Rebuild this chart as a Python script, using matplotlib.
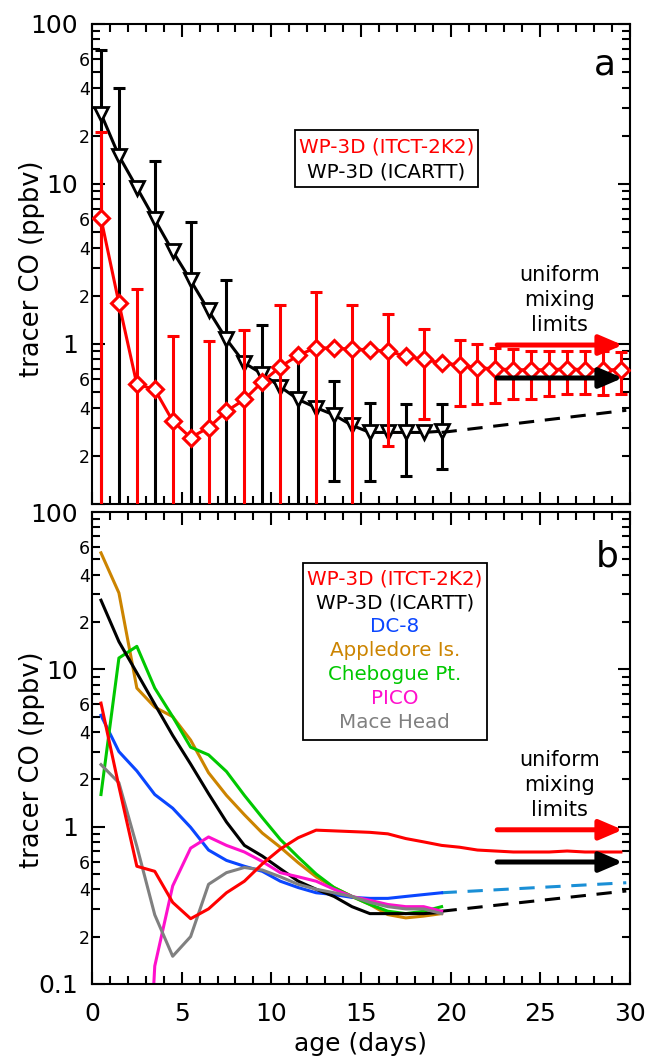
import numpy as np
import matplotlib.pyplot as plt
from matplotlib.patches import Rectangle

# ---- data ----
age = np.arange(0.5, 30, 1.0)          # 0.5 ... 29.5 days
age20 = age[:20]                       # 0.5 ... 19.5 days

co_itct = [6.1, 1.8, 0.56, 0.52, 0.33, 0.26, 0.30, 0.38, 0.45, 0.58,
           0.72, 0.85, 0.95, 0.94, 0.93, 0.92, 0.90, 0.84, 0.80, 0.76,
           0.74, 0.71, 0.70, 0.69, 0.69, 0.69, 0.70, 0.69, 0.69, 0.69]
err_itct_age = [0.5, 2.5, 4.5, 6.5, 8.5, 10.5, 12.5, 14.5, 16.5, 18.5,
                20.5, 21.5, 22.5, 23.5, 24.5, 25.5, 26.5, 27.5, 28.5, 29.5]
err_itct_hi = [21, 2.2, 1.12, 1.04, 1.23, 1.76, 2.1, 1.75, 1.54, 1.24,
               1.06, 1.0, 0.94, 0.93, 0.91, 0.90, 0.90, 0.90, 0.90, 0.89]
err_itct_lo = [0, 0, 0, 0, 0, 0, 0, 0, 0.23, 0.34,
               0.41, 0.42, 0.43, 0.45, 0.45, 0.47, 0.49, 0.49, 0.48, 0.49]

co_icartt = [27.5, 15, 9.5, 6.0, 3.8, 2.5, 1.62, 1.07, 0.76, 0.65,
             0.54, 0.45, 0.40, 0.36, 0.31, 0.28, 0.28, 0.28, 0.28, 0.285]
err_icartt_age = [0.5, 1.5, 3.5, 5.5, 7.5, 9.5, 11.5, 13.5, 15.5, 17.5, 19.5]
err_icartt_hi = [69, 40, 14, 5.8, 2.5, 1.32, 0.85, 0.59, 0.43, 0.42, 0.42]
err_icartt_lo = [0, 0, 0, 0, 0, 0, 0, 0.14, 0.14, 0.15, 0.166]

co_dc8 = [5.1, 3.0, 2.26, 1.6, 1.31, 0.99, 0.71, 0.61, 0.56, 0.52,
          0.45, 0.41, 0.38, 0.37, 0.355, 0.35, 0.35, 0.36, 0.37, 0.38]
co_appledore = [55, 30.6, 7.6, 5.75, 5.0, 3.55, 2.2, 1.58, 1.19, 0.91,
                0.74, 0.59, 0.48, 0.41, 0.36, 0.32, 0.276, 0.263, 0.27, 0.28]
co_chebogue = [1.6, 11.8, 14, 7.6, 5.0, 3.2, 2.86, 2.24, 1.58, 1.14,
               0.83, 0.64, 0.50, 0.41, 0.36, 0.32, 0.29, 0.28, 0.29, 0.31]
age_pico = age[2:20]
co_pico = [0.001, 0.13, 0.42, 0.73, 0.86, 0.76, 0.69, 0.60, 0.51, 0.48,
           0.45, 0.40, 0.36, 0.34, 0.32, 0.31, 0.31, 0.29]
co_mace = [2.48, 1.9, 0.75, 0.275, 0.15, 0.2, 0.43, 0.51, 0.55, 0.53,
           0.48, 0.43, 0.40, 0.38, 0.36, 0.33, 0.31, 0.30, 0.30, 0.28]

# extrapolations beyond 20 days
ext_age = [19.5, 29.8]
ext_icartt_top = [0.28, 0.385]
ext_icartt_bot = [0.29, 0.39]
ext_dc8 = [0.38, 0.44]

# uniform mixing limits (panel a, panel b)
limit_age = [22.6, 29.6]
limit_itct = [0.985, 0.955]
limit_icartt = [0.613, 0.596]

legend_top = ['WP-3D (ITCT-2K2)', 'WP-3D (ICARTT)']
legend_bot = ['WP-3D (ITCT-2K2)', 'WP-3D (ICARTT)', 'DC-8', 'Appledore Is.',
              'Chebogue Pt.', 'PICO', 'Mace Head']

RED, BLACK, BLUE = '#ff0000', '#000000', '#0a46ff'
ORANGE, GREEN, MAGENTA, GRAY = '#cc8400', '#00c800', '#ff10cc', '#808080'
LIGHTBLUE = '#1a8fd6'
colors_bot = [RED, BLACK, BLUE, ORANGE, GREEN, MAGENTA, GRAY]

plt.rcParams['font.family'] = ['DejaVu Sans']


def style_axes(ax, ylabel_y, bottom_label):
    ax.set_yscale('log', nonpositive='clip')
    ax.set_xlim(0, 30)
    ax.set_ylim(0.1, 100)
    ax.set_xticks(np.arange(0, 31, 5))
    ax.set_xticks([i for i in range(31) if i % 5], minor=True)
    minors = [k * 10.0 ** d for d in (-1, 0, 1) for k in range(2, 10)]
    minor_labels = [str(k) if k in (2, 4, 6) else '' for d in (-1, 0, 1) for k in range(2, 10)]
    ax.set_yticks([0.1, 1, 10, 100], labels=[bottom_label, '1', '10', '100'], fontsize=18)
    ax.set_yticks(minors, labels=minor_labels, minor=True, fontsize=12.5)
    ax.tick_params(which='both', direction='in', top=True, right=True, width=1.5)
    ax.tick_params(which='major', length=9)
    ax.tick_params(which='minor', length=5.5)
    ax.tick_params(axis='y', which='major', pad=10)
    ax.tick_params(axis='y', which='minor', pad=1.5)
    ax.tick_params(axis='x', which='major', labelsize=18, pad=13)
    for s in ax.spines.values():
        s.set_linewidth(1.5)
    ax.set_ylabel('tracer CO (ppbv)', fontsize=18.5)
    ax.yaxis.set_label_coords(-0.087, ylabel_y)


def draw_limits(ax, k, text_y):
    for yv, c in ((limit_itct, RED), (limit_icartt, BLACK)):
        ax.annotate('', xy=(limit_age[1], yv[k]), xytext=(limit_age[0], yv[k]),
                    arrowprops=dict(arrowstyle='-|>,head_length=0.7,head_width=0.3',
                                    mutation_scale=20, color=c, lw=3.6,
                                    shrinkA=0, shrinkB=0), zorder=6)
    ax.text(26.1, text_y, 'uniform\nmixing\nlimits', ha='center', va='center',
            fontsize=15, linespacing=1.3)


fig = plt.figure(figsize=(6.48, 10.57), dpi=100)
ax1 = fig.add_axes([0.142, 0.5232, 0.830, 0.4541])
ax2 = fig.add_axes([0.142, 0.0691, 0.830, 0.4465])

# ---- panel a ----
style_axes(ax1, 0.49, '')
ax1.set_xticklabels([])
lo = np.array(co_icartt)[[list(age20).index(a) for a in err_icartt_age]]
ax1.errorbar(err_icartt_age, lo, yerr=[lo - np.array(err_icartt_lo), np.array(err_icartt_hi) - lo],
             fmt='none', ecolor=BLACK, elinewidth=2.2, capsize=4, capthick=2.2, zorder=2)
ax1.plot(age20, co_icartt, color=BLACK, lw=2.2, marker='v', ms=10, mfc='white',
         mec=BLACK, mew=2, zorder=3)
ax1.plot(ext_age, ext_icartt_top, color=BLACK, lw=2.2, ls=(0, (5, 3.5)), zorder=3)
mid = np.array(co_itct)[[list(age).index(a) for a in err_itct_age]]
ax1.errorbar(err_itct_age, mid, yerr=[mid - np.array(err_itct_lo), np.array(err_itct_hi) - mid],
             fmt='none', ecolor=RED, elinewidth=2.2, capsize=4, capthick=2.2, zorder=4)
ax1.plot(age, co_itct, color=RED, lw=2.2, marker='D', ms=8, mfc='white',
         mec=RED, mew=2.2, zorder=5)
draw_limits(ax1, 0, 1.88)

ax1.add_patch(Rectangle((0.377, 0.660), 0.340, 0.119, transform=ax1.transAxes,
                        fill=True, fc='white', ec='black', lw=1.3, zorder=7))
for i, (lab, c) in enumerate(zip(legend_top, [RED, BLACK])):
    ax1.text(0.547, 0.744 - i * 0.0523, lab, transform=ax1.transAxes, ha='center',
             va='center', color=c, fontsize=14.3, zorder=8)
ax1.text(0.953, 0.915, 'a', transform=ax1.transAxes, ha='center', va='center', fontsize=26)

# ---- panel b ----
style_axes(ax2, 0.475, '0.1')
ax2.set_xlabel('age (days)', fontsize=18, labelpad=4)
ax2.plot(ext_age, ext_dc8, color=LIGHTBLUE, lw=2.2, ls=(0, (5, 3.5)))
ax2.plot(ext_age, ext_icartt_bot, color=BLACK, lw=2.2, ls=(0, (5, 3.5)))
ax2.plot(age20, co_dc8, color=BLUE, lw=2.2)
ax2.plot(age20, co_appledore, color=ORANGE, lw=2.2)
ax2.plot(age20, co_chebogue, color=GREEN, lw=2.2)
ax2.plot(age20, co_icartt, color=BLACK, lw=2.2)
ax2.plot(age_pico, co_pico, color=MAGENTA, lw=2.2)
ax2.plot(age20, co_mace, color=GRAY, lw=2.2)
ax2.plot(age, co_itct, color=RED, lw=2.2)
draw_limits(ax2, 1, 1.84)

ax2.add_patch(Rectangle((0.392, 0.517), 0.342, 0.375, transform=ax2.transAxes,
                        fill=True, fc='white', ec='black', lw=1.3, zorder=7))
for i, (lab, c) in enumerate(zip(legend_bot, colors_bot)):
    ax2.text(0.563, 0.858 - i * 0.0508, lab, transform=ax2.transAxes, ha='center',
             va='center', color=c, fontsize=14.3, zorder=8)
ax2.text(0.957, 0.905, 'b', transform=ax2.transAxes, ha='center', va='center', fontsize=26)

fig.savefig('out.png', dpi=100)
